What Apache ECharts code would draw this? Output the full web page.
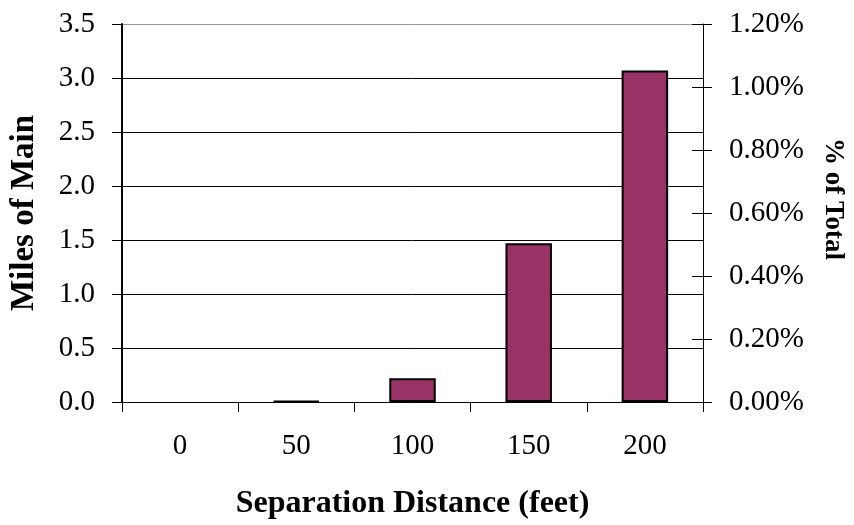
<!DOCTYPE html>
<html><head><meta charset="utf-8">
<script src="https://cdn.jsdelivr.net/npm/echarts@6/dist/echarts.min.js"></script>
<style>html,body{margin:0;padding:0;background:#fff}#c{width:854px;height:525px}</style>
</head><body><div id="c"></div>
<script>
const categories = ['0', '50', '100', '150', '200'];
const milesOfMain = [0, 0.01, 0.22, 1.47, 3.07];
const leftTitle = 'Miles of Main';
const rightTitle = '% of Total';
const xTitle = 'Separation Distance (feet)';

const font = 'Liberation Serif';
const chart = echarts.init(document.getElementById('c'));
chart.setOption({
  animation: false,
  grid: { left: 122, right: 151, top: 24, bottom: 122 },
  xAxis: {
    type: 'category', data: categories,
    axisLine: { lineStyle: { color: '#000', width: 1 } },
    axisTick: { show: true, length: 10, lineStyle: { color: '#000' } },
    axisLabel: { color: '#000', fontFamily: font, fontSize: 29, margin: 30 },
    name: xTitle, nameLocation: 'middle', nameGap: 86,
    nameTextStyle: { color: '#000', fontFamily: font, fontSize: 32, fontWeight: 'bold' }
  },
  yAxis: [
    {
      type: 'value', min: 0, max: 3.5, interval: 0.5, position: 'left',
      axisLine: { show: true, lineStyle: { color: '#000', width: 2 } },
      axisTick: { show: true, length: 10, lineStyle: { color: '#000' } },
      axisLabel: { color: '#000', fontFamily: font, fontSize: 29, margin: 27, formatter: v => v.toFixed(1) },
      splitLine: { show: true, lineStyle: { color: ['#000','#000','#000','#000','#000','#000','#000','#999'], width: 1 } },
      name: leftTitle, nameLocation: 'middle', nameGap: 81,
      nameTextStyle: { color: '#000', fontFamily: font, fontSize: 33, fontWeight: 'bold' }
    },
    {
      type: 'value', min: 0, max: 0.012, interval: 0.002, position: 'right',
      axisLine: { show: true, lineStyle: { color: '#000', width: 1 } },
      axisTick: { show: true, length: 9, lineStyle: { color: '#000' } },
      axisLabel: { color: '#000', fontFamily: font, fontSize: 29, margin: 26, formatter: v => (v * 100).toFixed(2) + '%' },
      splitLine: { show: false },
      name: rightTitle, nameLocation: 'middle', nameGap: 116, nameRotate: -90,
      nameTextStyle: { color: '#000', fontFamily: font, fontSize: 27, fontWeight: 'bold', padding: [0, 28, 0, 0] }
    },
    {
      type: 'value', min: 0, max: 0.012, interval: 0.002, position: 'right',
      axisLine: { show: false },
      axisTick: { show: true, inside: true, length: 11, lineStyle: { color: '#000' } },
      axisLabel: { show: false },
      splitLine: { show: false }
    }
  ],
  series: [{
    type: 'bar', yAxisIndex: 0,
    data: milesOfMain.map(v => v === 0 ? { value: v, itemStyle: { borderWidth: 0 } } : v),
    barCategoryGap: '60%',
    itemStyle: { color: '#993366', borderColor: '#000', borderWidth: 2 }
  }]
});
</script></body></html>
